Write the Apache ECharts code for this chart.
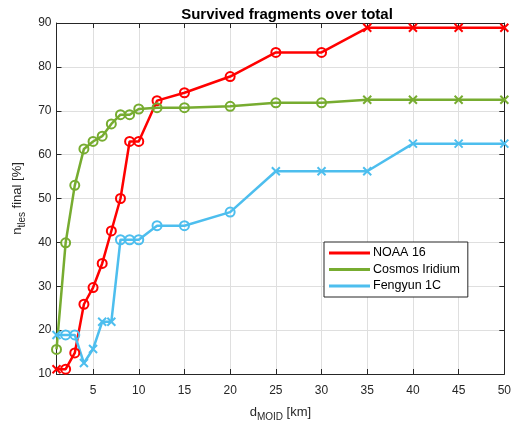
<!DOCTYPE html>
<html>
<head>
<meta charset="utf-8">
<script src="https://cdn.jsdelivr.net/npm/echarts@6/dist/echarts.min.js"></script>
<style>html,body{margin:0;padding:0;background:#fff}#c{width:514px;height:427px}</style>
</head>
<body>
<div id="c"></div>
<script>
var titleText = 'Survived fragments over total';
var seriesNames = ['NOAA 16', 'Cosmos Iridium', 'Fengyun 1C'];
var dMoid = [1, 2, 3, 4, 5, 6, 7, 8, 9, 10, 12, 15, 20, 25, 30, 35, 40, 45, 50];
var noaa16 = [11.1, 11.1, 14.8, 25.9, 29.7, 35.2, 42.6, 50.0, 63.0, 63.0, 72.3, 74.1, 77.8, 83.3, 83.3, 88.9, 88.9, 88.9, 88.9];
var cosmosIridium = [15.6, 39.9, 53.0, 61.3, 63.0, 64.2, 67.0, 69.1, 69.1, 70.4, 70.7, 70.7, 71.0, 71.8, 71.8, 72.5, 72.5, 72.5, 72.5];
var fengyun1C = [18.9, 18.9, 18.9, 12.5, 15.7, 21.9, 21.9, 40.6, 40.6, 40.6, 43.8, 43.8, 46.9, 56.2, 56.2, 56.2, 62.5, 62.5, 62.5];
var xTicks = [5, 10, 15, 20, 25, 30, 35, 40, 45, 50];

// marker styling (which points are drawn as crosses)
var crossAt = {
  'NOAA 16': [1, 35, 40, 45, 50],
  'Cosmos Iridium': [35, 40, 45, 50],
  'Fengyun 1C': [1, 4, 5, 6, 7, 25, 30, 35, 40, 45, 50]
};
var colors = ['#FF0000', '#77AC30', '#4DBEEE'];
var CROSS = 'path://M0,0L10,10M10,0L0,10';
var FONT = 'Liberation Sans';
var AX = '#262626';

function build(name, vals) {
  return dMoid.map(function (x, i) {
    var isCross = crossAt[name].indexOf(x) >= 0;
    return { value: [x, vals[i]], symbol: isCross ? CROSS : 'circle', symbolSize: isCross ? 8 : 9 };
  });
}
var allVals = [noaa16, cosmosIridium, fengyun1C];

var chart = echarts.init(document.getElementById('c'), null, { renderer: 'canvas' });
var option = {
  animation: false,
  backgroundColor: '#fff',
  title: {
    text: titleText, left: 282, top: 2, textAlign: 'center',
    textStyle: { fontFamily: FONT, fontSize: 15, fontWeight: 'bold', color: '#000' }
  },
  grid: { left: 56.5, right: 7, top: 23, bottom: 53 },
  legend: {
    orient: 'vertical', left: 324, top: 242,
    backgroundColor: '#fff', borderColor: AX, borderWidth: 1,
    padding: [3, 8, 3, 5], itemGap: 0.5,
    itemWidth: 41, itemHeight: 3, icon: 'rect',
    itemStyle: { borderWidth: 0 },
    textStyle: { fontFamily: FONT, fontSize: 12.5, color: '#000', lineHeight: 16, padding: [0, 0, 0, -2] },
    data: seriesNames.map(function (n, k) { return { name: n, itemStyle: { color: colors[k], borderWidth: 0 } }; })
  },
  xAxis: [{
    type: 'value', min: 1, max: 50, position: 'bottom',
    name: '{m|d}{s|MOID}{m| [km]}', nameLocation: 'middle', nameGap: 29,
    nameTextStyle: { rich: {
      m: { fontFamily: FONT, fontSize: 13, color: AX },
      s: { fontFamily: FONT, fontSize: 10, color: AX, verticalAlign: 'bottom', padding: [9, 0, 0, 0] }
    } },
    axisLine: { lineStyle: { color: AX, width: 1 } },
    axisTick: { inside: true, length: 5, customValues: xTicks, lineStyle: { color: AX } },
    axisLabel: { customValues: xTicks, fontFamily: FONT, fontSize: 12, color: AX, margin: 11 },
    splitLine: { show: true, lineStyle: { color: '#dfdfdf', width: 1 } }
  }, {
    type: 'value', min: 1, max: 50, position: 'top',
    axisLine: { show: true, lineStyle: { color: AX, width: 1 } },
    axisTick: { show: true, inside: true, length: 5, customValues: xTicks, lineStyle: { color: AX } },
    axisLabel: { show: false }, splitLine: { show: false }
  }],
  yAxis: [{
    type: 'value', min: 10, max: 90, interval: 10, position: 'left',
    name: '{m|n}{s|tles}{m| final [%]}', nameLocation: 'middle', nameGap: 29,
    nameTextStyle: { rich: {
      m: { fontFamily: FONT, fontSize: 13, color: AX },
      s: { fontFamily: FONT, fontSize: 10, color: AX, verticalAlign: 'bottom', padding: [9, 0, 0, 0] }
    } },
    axisLine: { show: true, lineStyle: { color: AX, width: 1 } },
    axisTick: { show: true, inside: true, length: 5, lineStyle: { color: AX } },
    axisLabel: { fontFamily: FONT, fontSize: 12, color: AX, margin: 5 },
    splitLine: { show: true, lineStyle: { color: '#dfdfdf', width: 1 } }
  }, {
    type: 'value', min: 10, max: 90, interval: 10, position: 'right',
    axisLine: { show: true, lineStyle: { color: AX, width: 1 } },
    axisTick: { show: true, inside: true, length: 5, lineStyle: { color: AX } },
    axisLabel: { show: false }, splitLine: { show: false }
  }],
  series: seriesNames.map(function (name, k) {
    return {
      name: name, type: 'line', xAxisIndex: 0, yAxisIndex: 0,
      data: build(name, allVals[k]),
      clip: false,
      color: colors[k],
      lineStyle: { color: colors[k], width: 2.5 },
      itemStyle: { color: 'rgba(0,0,0,0)', borderColor: colors[k], borderWidth: 2 },
      emphasis: { disabled: true },
      showSymbol: true
    };
  })
};
chart.setOption(option);
</script>
</body>
</html>
